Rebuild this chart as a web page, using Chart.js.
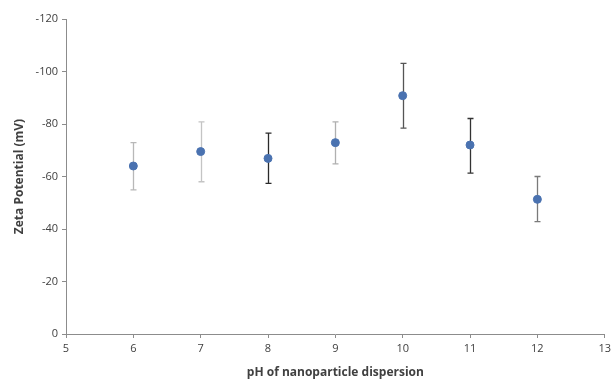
<!DOCTYPE html>
<html>
<head>
<meta charset="utf-8">
<script src="https://cdn.jsdelivr.net/npm/chart.js@4"></script>
<style>
  html, body { margin: 0; padding: 0; background: #fff; }
  #wrap { width: 615px; height: 381px; }
</style>
</head>
<body>
<div id="wrap"><canvas id="zetaChart"></canvas></div>
<script>
// pH values and zeta potential readings (mV)
const phValues = [6, 7, 8, 9, 10, 11, 12];
const zeta = [-64, -69.5, -66.9, -72.9, -90.8, -72, -51.3];
const errHigh = [-72.9, -80.8, -76.5, -80.8, -103.1, -82.1, -60];
const errLow = [-54.9, -58, -57.4, -64.8, -78.4, -61.3, -42.8];
const errColors = ['#b8b8b8', '#c4c4c4', '#2a2a2a', '#b0b0b0', '#555555', '#333333', '#7a7a7a'];
const yTicks = [0, -20, -40, -60, -80, -100, -120];

Chart.defaults.font.family = "'Open Sans', sans-serif";
Chart.defaults.color = '#404040';

const points = phValues.map((x, i) => ({ x: x, y: zeta[i] }));

// draws the vertical error bars with caps
const errorBars = {
    id: 'errorBars',
    beforeDatasetsDraw(chart) {
        const ctx = chart.ctx;
        const xs = chart.scales.x, ys = chart.scales.y;
        ctx.save();
        phValues.forEach((ph, i) => {
            const px = Math.round(xs.getPixelForValue(ph)) + 0.5;
            const top = ys.getPixelForValue(errHigh[i]);
            const bot = ys.getPixelForValue(errLow[i]);
            ctx.strokeStyle = errColors[i];
            ctx.lineWidth = 1.3;
            ctx.beginPath();
            ctx.moveTo(px, top); ctx.lineTo(px, bot);
            ctx.moveTo(px - 3, top); ctx.lineTo(px + 3, top);
            ctx.moveTo(px - 3, bot); ctx.lineTo(px + 3, bot);
            ctx.stroke();
        });
        ctx.restore();
    }
};

const ctx = document.getElementById('zetaChart').getContext('2d');
new Chart(ctx, {
    type: 'scatter',
    data: {
        datasets: [{
            label: 'Zeta potential',
            data: points,
            backgroundColor: '#4a72b0',
            borderColor: '#4a72b0',
            pointRadius: 4,
            pointHoverRadius: 4
        }]
    },
    options: {
        responsive: true,
        maintainAspectRatio: false,
        animation: false,
        layout: { padding: { top: 19, right: 7, left: 8, bottom: 0 } },
        plugins: {
            legend: { display: false },
            tooltip: { enabled: false }
        },
        scales: {
            x: {
                type: 'linear',
                min: 5,
                max: 13,
                afterFit: (s) => { s.height = 47; },
                ticks: { stepSize: 1, font: { size: 11 }, color: '#404040', padding: 4 },
                grid: { drawOnChartArea: false, tickLength: 4, color: '#8c8c8c' },
                border: { color: '#8c8c8c', width: 1 },
                title: {
                    display: true,
                    text: 'pH of nanoparticle dispersion',
                    font: { size: 12, weight: 'bold' },
                    color: '#404040',
                    padding: { top: 4, bottom: 1 }
                }
            },
            y: {
                min: -120,
                max: 0,
                reverse: true,
                afterFit: (s) => { s.width = 58; },
                afterBuildTicks: (s) => { s.ticks = yTicks.map(v => ({ value: v })); },
                ticks: { font: { size: 11 }, color: '#404040', padding: 4 },
                grid: { drawOnChartArea: false, tickLength: 4, color: '#8c8c8c' },
                border: { color: '#8c8c8c', width: 1 },
                title: {
                    display: true,
                    text: 'Zeta Potential (mV)',
                    font: { size: 12, weight: 'bold' },
                    color: '#404040',
                    padding: { bottom: 2 }
                }
            }
        }
    },
    plugins: [errorBars]
});
</script>
</body>
</html>
